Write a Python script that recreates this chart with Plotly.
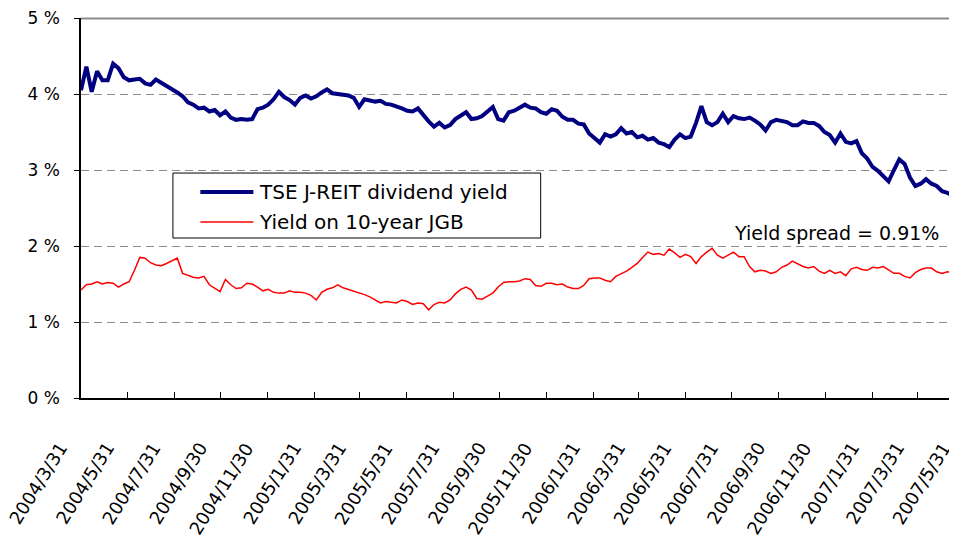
import pandas as pd
import plotly.graph_objects as go

# weekly readings of the two yields (%), starting at the end of March 2004
START = "2004-03-31"
REIT_YIELD = [
    4.05, 4.36, 4.03, 4.30, 4.18, 4.18, 4.40, 4.34, 4.22, 4.18,
    4.19, 4.20, 4.14, 4.12, 4.19, 4.15, 4.11, 4.06, 4.02, 3.97,
    3.89, 3.86, 3.81, 3.82, 3.77, 3.79, 3.72, 3.77, 3.69, 3.66,
    3.67, 3.66, 3.67, 3.80, 3.82, 3.86, 3.93, 4.03, 3.96, 3.92,
    3.86, 3.95, 3.98, 3.94, 3.97, 4.02, 4.06, 4.01, 4.00, 3.99,
    3.98, 3.95, 3.83, 3.93, 3.92, 3.90, 3.91, 3.87, 3.86, 3.84,
    3.81, 3.78, 3.77, 3.81, 3.72, 3.64, 3.57, 3.62, 3.56, 3.59,
    3.67, 3.71, 3.76, 3.67, 3.68, 3.71, 3.77, 3.83, 3.67, 3.65,
    3.76, 3.78, 3.82, 3.86, 3.82, 3.81, 3.76, 3.74, 3.80, 3.78,
    3.70, 3.66, 3.66, 3.61, 3.60, 3.48, 3.42, 3.36, 3.47, 3.44,
    3.47, 3.55, 3.48, 3.50, 3.43, 3.45, 3.40, 3.42, 3.36, 3.34,
    3.30, 3.40, 3.47, 3.42, 3.44, 3.62, 3.84, 3.63, 3.59, 3.63,
    3.74, 3.63, 3.71, 3.68, 3.67, 3.69, 3.65, 3.60, 3.52, 3.63,
    3.66, 3.64, 3.63, 3.59, 3.59, 3.64, 3.62, 3.62, 3.58, 3.50,
    3.46, 3.36, 3.48, 3.37, 3.35, 3.38, 3.22, 3.15, 3.04, 2.99,
    2.92, 2.85, 3.00, 3.14, 3.08, 2.90, 2.79, 2.82, 2.88, 2.82,
    2.79, 2.72, 2.70, 2.66, 2.65,
]
JGB_YIELD = [
    1.42, 1.49, 1.50, 1.53, 1.50, 1.52, 1.51, 1.46, 1.50, 1.53,
    1.68, 1.85, 1.84, 1.78, 1.75, 1.74, 1.77, 1.80, 1.84, 1.64,
    1.61, 1.59, 1.58, 1.60, 1.49, 1.44, 1.40, 1.56, 1.49, 1.44,
    1.45, 1.51, 1.50, 1.46, 1.41, 1.43, 1.39, 1.38, 1.38, 1.41,
    1.39, 1.39, 1.38, 1.35, 1.29, 1.39, 1.43, 1.45, 1.49, 1.45,
    1.43, 1.40, 1.38, 1.36, 1.33, 1.29, 1.25, 1.27, 1.26, 1.25,
    1.29, 1.27, 1.23, 1.25, 1.24, 1.16, 1.23, 1.26, 1.25, 1.29,
    1.37, 1.43, 1.46, 1.42, 1.31, 1.30, 1.34, 1.38, 1.46, 1.52,
    1.53, 1.53, 1.54, 1.57, 1.56, 1.48, 1.47, 1.51, 1.51, 1.49,
    1.50, 1.46, 1.44, 1.44, 1.48, 1.57, 1.58, 1.58, 1.55, 1.53,
    1.60, 1.63, 1.67, 1.72, 1.77, 1.85, 1.92, 1.89, 1.90, 1.88,
    1.96, 1.91, 1.85, 1.89, 1.86, 1.77, 1.86, 1.92, 1.97, 1.88,
    1.84, 1.88, 1.92, 1.86, 1.86, 1.73, 1.66, 1.68, 1.67, 1.64,
    1.66, 1.72, 1.75, 1.80, 1.76, 1.73, 1.71, 1.73, 1.67, 1.64,
    1.68, 1.64, 1.66, 1.61, 1.70, 1.72, 1.69, 1.68, 1.72, 1.71,
    1.73, 1.69, 1.64, 1.64, 1.60, 1.58, 1.65, 1.69, 1.71, 1.71,
    1.66, 1.64, 1.66, 1.65, 1.64,
]
TICK_DATES = [
    "2004-03-31", "2004-05-31", "2004-07-31", "2004-09-30", "2004-11-30",
    "2005-01-31", "2005-03-31", "2005-05-31", "2005-07-31", "2005-09-30",
    "2005-11-30", "2006-01-31", "2006-03-31", "2006-05-31", "2006-07-31",
    "2006-09-30", "2006-11-30", "2007-01-31", "2007-03-31", "2007-05-31",
]
Y_TICKS = [0, 1, 2, 3, 4, 5]
SERIES_NAMES = ["TSE J-REIT dividend yield", "Yield on 10-year JGB"]
SPREAD_LABEL = "Yield spread = 0.91%"
SPREAD_ARROW = [2.54, 1.84]

X_END = "2007-06-01"
FONT = "DejaVu Sans"

dates = pd.date_range(START, periods=len(REIT_YIELD), freq="7D")
ticks = pd.to_datetime(TICK_DATES)
tick_text = [f"{d.year}/{d.month}/{d.day}" for d in ticks]

fig = go.Figure()
fig.add_trace(go.Scatter(x=dates, y=REIT_YIELD, mode="lines", name=SERIES_NAMES[0],
                         line=dict(color="#000080", width=4), showlegend=False))
fig.add_trace(go.Scatter(x=dates, y=JGB_YIELD, mode="lines", name=SERIES_NAMES[1],
                         line=dict(color="#ff0000", width=1.5), showlegend=False))

fig.update_xaxes(
    range=[START, X_END], tickvals=ticks, showticklabels=False,
    ticks="inside", ticklen=6, tickcolor="black", showline=True, linecolor="black",
    linewidth=1.5, showgrid=False, automargin=False,
)
fig.update_yaxes(
    range=[0, 5], tickvals=Y_TICKS, ticktext=[f"{v} %" for v in Y_TICKS],
    ticks="outside", ticklen=5, tickcolor="black", showline=True, linecolor="black",
    linewidth=1.5, showgrid=True, gridcolor="#8c8c8c", griddash="8px,5px", gridwidth=1,
    zeroline=False, tickfont=dict(family=FONT, size=17, color="black"),
    ticklabelstandoff=11, automargin=False, ticklabeloverflow="allow",
)

# slanted date labels, hung just left of and below each tick like the original
for d, t in zip(ticks, tick_text):
    fig.add_annotation(text=t, x=d, xref="x", y=-0.1, yref="paper", xanchor="right",
                       yanchor="top", xshift=-7, textangle=-58, showarrow=False,
                       font=dict(family=FONT, size=18, color="black"))

# frame line on top of the plot area
fig.add_shape(type="line", xref="paper", yref="paper", x0=0, x1=1, y0=0.999, y1=0.999,
              line=dict(color="#8c8c8c", width=2), layer="above")

# legend box drawn by hand so the line samples match the original length
fig.add_shape(type="rect", xref="paper", yref="paper", x0=0.104, x1=0.520, y0=0.421, y1=0.592,
              line=dict(color="black", width=1), fillcolor="white", layer="above")
for name, color, width, yy in [(SERIES_NAMES[0], "#000080", 4, 0.542), (SERIES_NAMES[1], "#ff0000", 1.5, 0.463)]:
    fig.add_shape(type="line", xref="paper", yref="paper", x0=0.135, x1=0.195, y0=yy, y1=yy,
                  line=dict(color=color, width=width), layer="above")
    fig.add_annotation(text=name, xref="paper", yref="paper", x=0.199, y=yy, xanchor="left",
                       yanchor="middle", showarrow=False, font=dict(family=FONT, size=20, color="black"))

fig.add_annotation(text=SPREAD_LABEL, xref="paper", yref="y", x=0.855, y=2.17, xanchor="center",
                   showarrow=False, font=dict(family=FONT, size=19, color="black"))

# double-headed spread arrow at the right edge (mostly cut off, as in the original)
top, bottom = SPREAD_ARROW
ax_x, half_w, head_h = 0.9925, 0.0065, 0.12
fig.add_shape(type="line", xref="paper", yref="y", x0=ax_x, x1=ax_x, y0=bottom, y1=top,
              line=dict(color="black", width=1.5), layer="above")
fig.add_shape(type="path", xref="paper", yref="y", layer="above", fillcolor="black",
              line=dict(color="black", width=1),
              path=f"M {ax_x - half_w},{top - head_h} L {ax_x},{top} L {ax_x + half_w},{top - head_h} Z")
fig.add_shape(type="path", xref="paper", yref="y", layer="above", fillcolor="black",
              line=dict(color="black", width=1),
              path=f"M {ax_x - half_w},{bottom + head_h} L {ax_x},{bottom} L {ax_x + half_w},{bottom + head_h} Z")

# the page adds an 8 px body margin, so the plot box is offset to land where the original sits
fig.update_layout(
    width=957, height=538, margin=dict(l=73, r=0, t=10, b=148),
    plot_bgcolor="white", paper_bgcolor="white", showlegend=False,
)
fig.write_html("out.html")
